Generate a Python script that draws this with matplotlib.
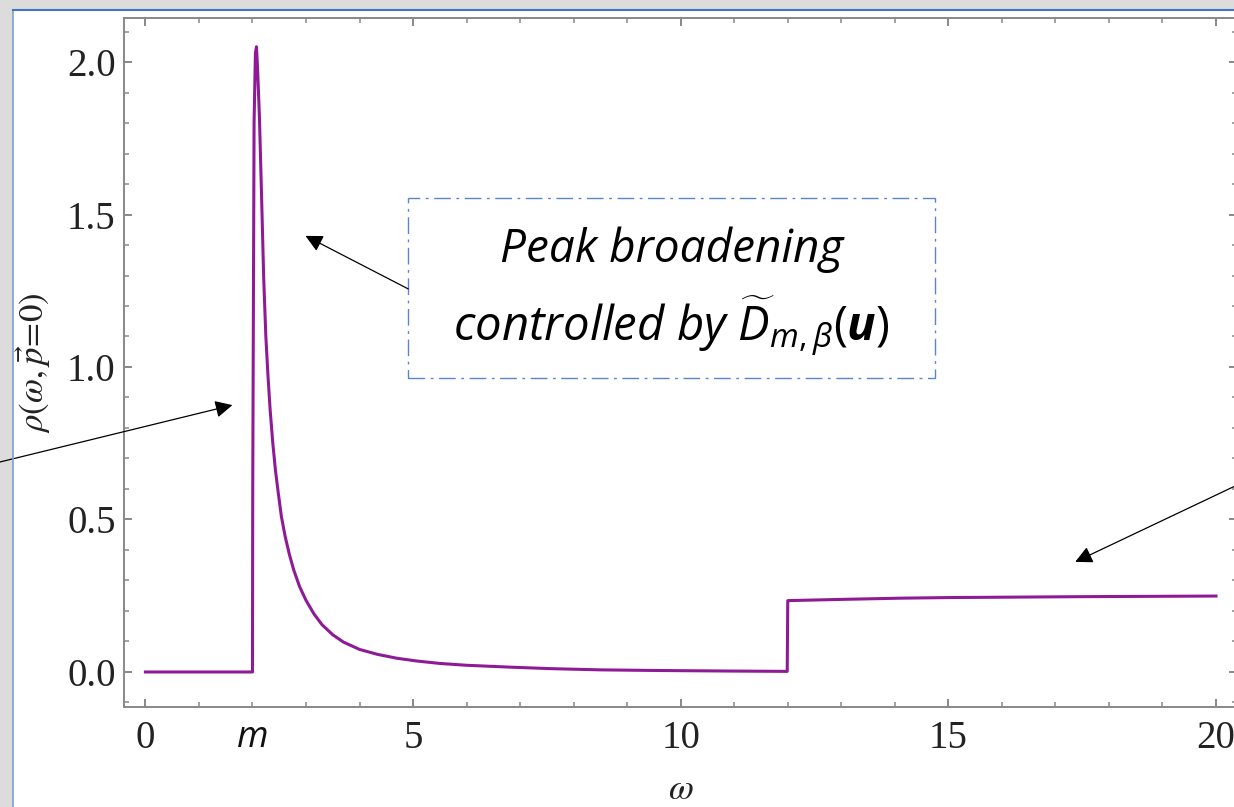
import numpy as np
import matplotlib
matplotlib.use('Agg')
import matplotlib.pyplot as plt
from matplotlib.patches import Rectangle
from matplotlib.lines import Line2D
from matplotlib.ticker import MultipleLocator

# spectral function
omega = [0.0, 2.0, 2.005, 2.03, 2.055, 2.075, 2.095, 2.13, 2.17, 2.21, 2.25, 2.29, 2.33,
         2.38, 2.43, 2.48, 2.54, 2.61, 2.69, 2.77, 2.88, 3.0, 3.15, 3.3, 3.5, 3.7, 4.0,
         4.33, 4.7, 5.07, 5.5, 6.0, 6.8, 7.56, 8.5, 9.5, 11.0, 11.99, 12.0, 13.0, 14.1,
         15.0, 17.5, 20.0]
rho = [0.0, 0.0, 0.6, 1.8, 2.03, 2.05, 1.98, 1.82, 1.56, 1.29, 1.10, 0.97, 0.86,
       0.75, 0.66, 0.59, 0.51, 0.445, 0.385, 0.335, 0.28, 0.235, 0.19, 0.155, 0.122, 0.098,
       0.074, 0.058, 0.045, 0.036, 0.028, 0.022, 0.016, 0.011, 0.007, 0.005, 0.003, 0.002,
       0.234, 0.238, 0.242, 0.244, 0.247, 0.249]

xtick_vals = [0, 5, 10, 15, 20]
xtick_labels = ['0', '5', '10', '15', '20']
ytick_vals = [0.0, 0.5, 1.0, 1.5, 2.0]
ytick_labels = ['0.0', '0.5', '1.0', '1.5', '2.0']
m_pos = 2.0

box_text1 = 'Peak broadening'
box_text2 = r'controlled by $\widetilde{D}_{m,\beta}(\mathbf{u})$'

plt.rcParams['mathtext.fontset'] = 'custom'
plt.rcParams['mathtext.rm'] = 'Open Sans'
plt.rcParams['mathtext.it'] = 'Open Sans:italic'
plt.rcParams['mathtext.bf'] = 'Open Sans:italic:bold'

fig = plt.figure(figsize=(12.34, 8.07), dpi=100, facecolor='#dcdcdc')

# white slide area with blue border on left/top
fig.add_artist(Rectangle((13 / 1234, -0.02), 1.1, 1 - 10 / 807 + 0.02, transform=fig.transFigure,
                         facecolor='white', edgecolor='none', zorder=0))
fig.add_artist(Line2D([13 / 1234, 13 / 1234], [-0.01, 1 - 10 / 807], transform=fig.transFigure,
                      color='#7f9fd6', lw=1.2, zorder=1))
fig.add_artist(Line2D([13 / 1234, 1.01], [1 - 10 / 807, 1 - 10 / 807], transform=fig.transFigure,
                      color='#4472c4', lw=1.5, zorder=1))

ax = fig.add_axes([124 / 1234, 1 - 707 / 807, (1237.4 - 124) / 1234, (707 - 18) / 807])
ax.set_facecolor('none')
ax.plot(omega, rho, color='#8e1b95', lw=2.2, solid_joinstyle='round')

ax.set_xlim(-0.4, 20.4)
ax.set_ylim(-0.1148, 2.1443)

for s in ax.spines.values():
    s.set_color('#888888')
    s.set_linewidth(1.4)

ax.set_xticks(xtick_vals)
ax.set_xticklabels(xtick_labels)
ax.set_yticks(ytick_vals)
ax.set_yticklabels(ytick_labels)
ax.xaxis.set_minor_locator(MultipleLocator(1))
ax.yaxis.set_minor_locator(MultipleLocator(0.1))
ax.tick_params(which='both', direction='in', top=True, right=True, color='#888888')
ax.tick_params(which='major', length=6, width=1.4)
ax.tick_params(which='minor', length=3.5, width=1.1)
ax.tick_params(axis='x', which='major', labelsize=28, pad=9)
ax.tick_params(axis='y', which='major', labelsize=28, pad=6)
for lbl in ax.get_xticklabels() + ax.get_yticklabels():
    lbl.set_family('Liberation Serif')
    lbl.set_color('#222222')

ax.text(m_pos, -0.1148 - 13 / 305, 'm', ha='center', va='top',
        fontsize=26, fontstyle='italic', family='Open Sans', color='#111111',
        clip_on=False)

ax.set_xlabel(r'$\omega$', math_fontfamily='stix', fontsize=26, labelpad=11, color='#222222')
ax.set_ylabel(r'$\rho(\omega,\vec{p}\!=\!0)$', math_fontfamily='stix', fontsize=25,
              labelpad=10, color='#222222')

# dash-dot box with annotation text
ax.add_patch(Rectangle((4.91, 0.964), 14.75 - 4.91, 1.554 - 0.964, fill=False,
                       edgecolor='#5b85c8', lw=1.0, linestyle=(0, (12, 4, 2, 4)), zorder=3))
ax.text(9.83, (672 - 250) / 305, box_text1, ha='center', va='center', fontsize=33,
        fontstyle='italic', family='Open Sans', color='black')
ax.text(9.83, (672 - 327) / 305, box_text2, ha='center', va='center', fontsize=34,
        fontstyle='italic', family='Open Sans', color='black')

arrow_kw = dict(arrowstyle='-|>', color='black', lw=0.9, mutation_scale=26,
                shrinkA=0, shrinkB=0)
ax.annotate('', xy=(2.99, 1.430), xytext=(4.91, 1.256), arrowprops=arrow_kw,
            annotation_clip=False)
ax.annotate('', xy=(1.625, 0.875), xytext=(-2.80, 0.685), arrowprops=arrow_kw,
            annotation_clip=False)
ax.annotate('', xy=(17.37, 0.361), xytext=(20.6, 0.630), arrowprops=arrow_kw,
            annotation_clip=False)

fig.savefig('out.png', dpi=100, facecolor=fig.get_facecolor())
